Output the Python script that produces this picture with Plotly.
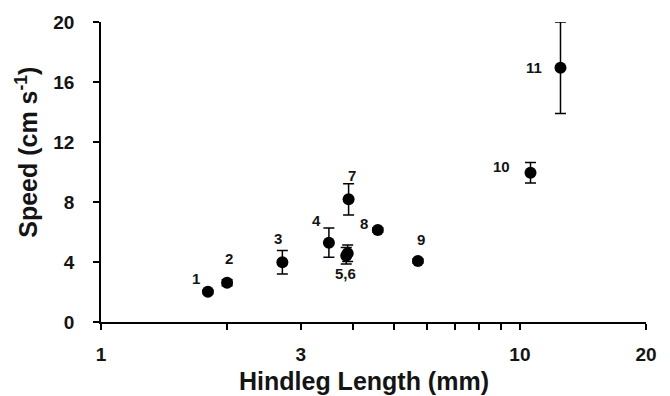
import math
import plotly.graph_objects as go

# Data
species = ["1", "2", "3", "4", "5", "6", "7", "8", "9", "10", "11"]
point_labels = ["1", "2", "3", "4", "5,6", "", "7", "8", "9", "10", "11"]
hindleg_mm = [1.80, 2.00, 2.71, 3.50, 3.85, 3.88, 3.90, 4.58, 5.71, 10.6, 12.5]
speed = [2.02, 2.62, 3.98, 5.29, 4.42, 4.58, 8.18, 6.13, 4.07, 9.95, 16.95]
speed_err = [0.12, 0.2, 0.78, 0.97, 0.55, 0.55, 1.04, 0.15, 0.15, 0.69, 3.05]

x_major_ticks = [1, 3, 10, 20]
x_minor_ticks = [2, 4, 5, 6, 7, 8, 9]
y_ticks = [0, 4, 8, 12, 16, 20]
x_title = "Hindleg Length (mm)"
y_title = "Speed (cm s<sup>-1</sup>)"

# label offsets in pixels (style)
label_offsets = [(-12, 13), (2, 24), (-4, 24), (-12, 22), (-1, -18), (0, 0),
                 (3, 24), (-14, 7), (3, 21), (-29, 6), (-26, 0)]

FONT = "Liberation Sans, Arial, sans-serif"
INK = "#141414"

fig = go.Figure()
fig.add_trace(go.Scatter(
    x=hindleg_mm, y=speed, mode="markers",
    marker=dict(color="black", size=12),
    error_y=dict(type="data", array=speed_err, visible=True,
                 color="black", thickness=1.5, width=5.5),
    showlegend=False, hoverinfo="x+y",
))

for xv, yv, lab, (dx, dy) in zip(hindleg_mm, speed, point_labels, label_offsets):
    if not lab:
        continue
    fig.add_annotation(x=math.log10(xv), y=yv, text="<b>%s</b>" % lab,
                       showarrow=False, xshift=dx, yshift=dy,
                       font=dict(family=FONT, size=15, color=INK))

# axis titles as annotations
fig.add_annotation(xref="paper", yref="paper", x=0.482, y=-0.197,
                   text="<b>%s</b>" % x_title, showarrow=False,
                   xanchor="center", yanchor="middle",
                   font=dict(family=FONT, size=25, color=INK))
fig.add_annotation(xref="paper", yref="paper", x=-0.136, y=0.567,
                   text="<b>%s</b>" % y_title, showarrow=False, textangle=-90,
                   xanchor="center", yanchor="middle",
                   font=dict(family=FONT, size=25, color=INK))

fig.update_layout(
    width=670, height=396,
    margin=dict(l=101, r=24, t=22, b=74),
    paper_bgcolor="white", plot_bgcolor="white",
    font=dict(family=FONT, color=INK),
    xaxis=dict(
        type="log", range=[0, math.log10(20)], automargin=False,
        tickvals=x_major_ticks, ticktext=["<b>%g</b>" % v for v in x_major_ticks],
        ticks="outside", ticklen=6, tickwidth=1.5, tickcolor="black",
        ticklabelstandoff=8,
        minor=dict(tickvals=x_minor_ticks, ticks="outside", ticklen=6,
                   tickwidth=1.5, tickcolor="black", showgrid=False),
        showline=True, linecolor="black", linewidth=1.5,
        showgrid=False, zeroline=False,
        tickfont=dict(family=FONT, size=19, color=INK),
    ),
    yaxis=dict(
        range=[0, 20], automargin=False,
        tickvals=y_ticks, ticktext=["<b>%g</b>" % v for v in y_ticks],
        ticks="outside", ticklen=6, tickwidth=1.5, tickcolor="black",
        ticklabelstandoff=15,
        showline=True, linecolor="black", linewidth=1.5,
        showgrid=False, zeroline=False,
        tickfont=dict(family=FONT, size=19, color=INK),
    ),
)

fig.write_html("out.html", config={"displayModeBar": False},
               post_script="document.body.style.margin='0';")
